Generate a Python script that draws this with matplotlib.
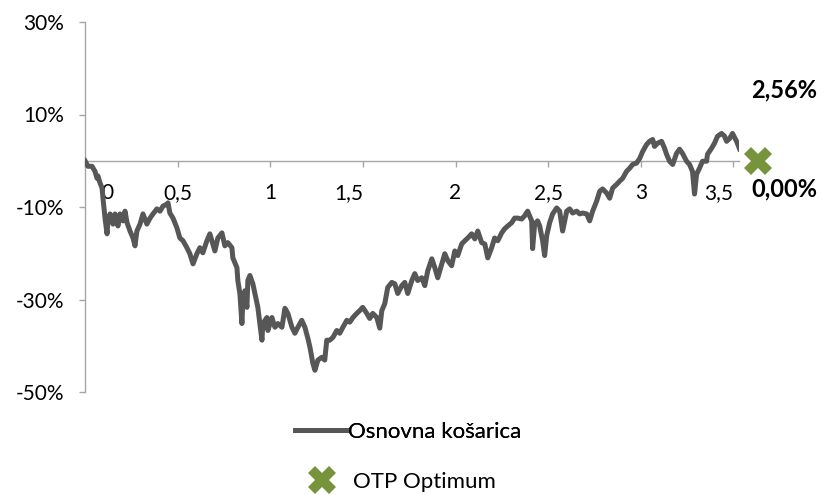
import matplotlib
matplotlib.use("Agg")
import matplotlib.pyplot as plt
import matplotlib.transforms as mtransforms

plt.rcParams['font.family'] = ['Lato', 'DejaVu Sans']

# vrijeme u godinama i prinos osnovne košarice (%)
x_years = [
    0.000, 0.016, 0.038, 0.054, 0.065, 0.070, 0.081, 0.092, 0.097, 0.108,
    0.119, 0.124, 0.135, 0.151, 0.162, 0.178, 0.189, 0.205, 0.216, 0.227,
    0.243, 0.259, 0.270, 0.280, 0.297, 0.313, 0.334, 0.351, 0.367, 0.388,
    0.405, 0.421, 0.442, 0.448, 0.458, 0.475, 0.496, 0.512, 0.529, 0.550,
    0.566, 0.583, 0.604, 0.620,
    0.636, 0.658, 0.674, 0.690, 0.701, 0.717, 0.739, 0.755, 0.771, 0.793,
    0.798, 0.820, 0.825, 0.836, 0.847, 0.852, 0.863, 0.874, 0.879, 0.890,
    0.906, 0.917, 0.933, 0.955, 0.960, 0.982, 0.987, 1.009, 1.025, 1.041,
    1.063, 1.079, 1.095, 1.117, 1.133, 1.149, 1.170, 1.187,
    1.203, 1.214, 1.230, 1.241, 1.257, 1.278, 1.294, 1.305, 1.321, 1.338,
    1.359, 1.375, 1.392, 1.413, 1.429, 1.446, 1.467, 1.483, 1.499, 1.521,
    1.537, 1.553, 1.575, 1.591, 1.602, 1.618, 1.634, 1.656, 1.672, 1.688,
    1.710, 1.726, 1.742, 1.764, 1.780, 1.796, 1.818, 1.834, 1.850,
    1.872, 1.888, 1.904, 1.926, 1.942, 1.958, 1.979, 1.996, 2.012, 2.033,
    2.050, 2.066, 2.087, 2.104, 2.120, 2.141, 2.158, 2.174, 2.195, 2.211,
    2.228, 2.249, 2.265, 2.282, 2.303, 2.319, 2.336, 2.357, 2.373, 2.389,
    2.411, 2.416, 2.427, 2.443, 2.454, 2.470, 2.481, 2.492, 2.508,
    2.524, 2.546, 2.562, 2.578, 2.600, 2.616, 2.632, 2.654, 2.670, 2.686,
    2.708, 2.724, 2.740, 2.762, 2.778, 2.794, 2.816, 2.832, 2.848, 2.870,
    2.886, 2.902, 2.923, 2.940, 2.956, 2.977, 2.994, 3.010, 3.031, 3.047,
    3.064, 3.074, 3.091, 3.112, 3.128, 3.139, 3.155, 3.172, 3.193, 3.209,
    3.225, 3.247, 3.263, 3.279, 3.290, 3.301, 3.317, 3.333, 3.355, 3.360,
    3.382, 3.398, 3.414, 3.436, 3.452, 3.463, 3.479, 3.495, 3.517, 3.533,
]
kosarica = [
    0.0, -1.2, -1.2, -2.3, -3.8, -3.3, -4.8, -5.9, -8.1, -12.4,
    -15.8, -13.0, -11.5, -13.7, -11.5, -14.1, -11.5, -13.0, -10.9, -13.4,
    -15.2, -16.7, -18.4, -15.2, -13.7, -11.5, -13.7, -12.4, -11.5, -10.4,
    -10.9, -9.8, -9.4, -9.1, -11.3, -12.4, -14.5, -16.7, -17.3, -18.8,
    -20.1, -22.3, -20.1, -18.8,
    -19.9, -17.3, -15.8, -18.0, -19.5, -16.7, -15.6, -18.4, -17.7, -18.8,
    -21.0, -23.1, -25.9, -28.7, -35.2, -30.2, -28.1, -31.7, -25.9, -24.8,
    -26.6, -28.7, -31.7, -38.8, -35.2, -33.9, -36.7, -33.9, -36.0, -35.2,
    -36.0, -31.9, -33.0, -36.0, -37.3, -36.0, -34.5, -36.0,
    -38.4, -40.3, -43.8, -45.3, -43.1, -42.5, -43.1, -38.8, -38.8, -38.2,
    -36.7, -37.3, -36.0, -34.5, -34.9, -33.9, -33.0, -32.4, -31.7, -33.0,
    -34.1, -33.0, -33.9, -36.2, -32.4, -30.9, -27.4, -26.3, -26.6, -28.7,
    -27.0, -26.3, -28.7, -25.9, -24.4, -25.9, -25.3, -27.0, -23.8,
    -21.2, -23.1, -25.3, -22.3, -20.1, -21.6, -22.7, -19.5, -20.5, -18.0,
    -17.3, -16.7, -15.8, -16.9, -15.2, -17.7, -18.0, -21.0, -18.8, -16.7,
    -17.3, -15.6, -14.7, -14.1, -13.4, -12.4, -12.4, -12.6, -11.9, -10.9,
    -13.0, -19.0, -13.7, -13.0, -14.1, -17.3, -20.5, -16.2, -13.4,
    -11.5, -10.2, -10.9, -15.2, -10.9, -10.4, -11.3, -10.9, -11.5, -11.3,
    -11.5, -13.0, -10.9, -8.7, -6.6, -6.1, -7.0, -8.1, -5.9, -5.1,
    -4.4, -3.8, -2.3, -1.6, -0.8, -0.5, 0.5, 2.0, 3.5, 4.2,
    4.6, 3.1, 3.8, 4.2, 2.7, 1.4, -0.1, -0.8, 1.6, 2.5,
    1.6, -0.1, -0.8, -2.3, -7.2, -2.9, -1.6, -0.1, -0.1, 1.4,
    2.7, 3.8, 5.3, 5.9, 5.3, 4.2, 4.8, 5.9, 4.2, 2.56,
]

optimum_x = 3.63
optimum_y = 0.0
label_kosarica = "2,56%"
label_optimum = "0,00%"

x_ticks = [0, 0.5, 1, 1.5, 2, 2.5, 3, 3.5]
x_tick_labels = ["0", "0,5", "1", "1,5", "2", "2,5", "3", "3,5"]
y_ticks = [-50, -30, -10, 10, 30]
y_tick_labels = ["-50%", "-30%", "-10%", "10%", "30%"]

fig = plt.figure(figsize=(8.24, 4.95), dpi=100)
ax = fig.add_axes([85 / 824, 1 - 392 / 495, 654 / 824, 370 / 495])

line, = ax.plot(x_years, kosarica, color="#575757", lw=3.6, zorder=3,
                solid_joinstyle="round")
mark, = ax.plot([optimum_x], [optimum_y], marker="X", ms=20, color="#77933c",
                mew=0, ls="none", clip_on=False, zorder=4)

ax.set_xlim(0, 3.53)
ax.set_ylim(-50, 30)

for s in ["top", "right"]:
    ax.spines[s].set_visible(False)
ax.spines["bottom"].set_position(("data", 0))
for s in ["left", "bottom"]:
    ax.spines[s].set_color("#a6a6a6")
    ax.spines[s].set_linewidth(1)

ax.set_xticks(x_ticks)
ax.set_xticklabels(x_tick_labels)
ax.set_yticks(y_ticks)
ax.set_yticklabels(y_tick_labels)
ax.tick_params(axis="both", colors="#a6a6a6", labelcolor="black",
               labelsize=15, length=4, width=1)
ax.tick_params(axis="x", pad=12)
ax.tick_params(axis="y", pad=11)

# pomaci nekih oznaka na x osi kao u izvorniku
shifts = {"0": 22, "1,5": -14, "3,5": -15}
for lbl in ax.get_xticklabels():
    dx = shifts.get(lbl.get_text(), 0)
    if dx:
        lbl.set_transform(lbl.get_transform() +
                          mtransforms.ScaledTranslation(dx / 100, 0, fig.dpi_scale_trans))

ax.annotate(label_kosarica, (optimum_x, optimum_y), xytext=(27, 71),
            textcoords="offset pixels", ha="center", va="center",
            fontsize=17, fontweight="bold", annotation_clip=False)
ax.annotate(label_optimum, (optimum_x, optimum_y), xytext=(27, -28),
            textcoords="offset pixels", ha="center", va="center",
            fontsize=17, fontweight="bold", annotation_clip=False)

leg1 = fig.legend([line], ["Osnovna košarica"], loc="center left",
                  bbox_to_anchor=(295 / 824, 1 - 432 / 495), frameon=False,
                  fontsize=16, handlelength=2.3, handletextpad=0.1,
                  borderpad=0, borderaxespad=0)
fig.legend([mark], ["OTP Optimum"], loc="center left",
           bbox_to_anchor=(304 / 824, 1 - 482 / 495), frameon=False,
           fontsize=16, handlelength=1.6, handletextpad=0.6, numpoints=1,
           borderpad=0, borderaxespad=0)
fig.add_artist(leg1)

fig.savefig("out.png", dpi=100)
